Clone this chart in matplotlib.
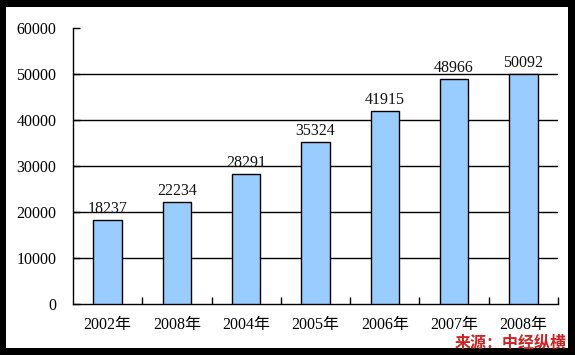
import matplotlib
matplotlib.use("Agg")
import matplotlib.pyplot as plt
from matplotlib.patches import Rectangle

categories = ["2002年", "2008年", "2004年", "2005年", "2006年", "2007年", "2008年"]
values = [18237, 22234, 28291, 35324, 41915, 48966, 50092]
yticks = [0, 10000, 20000, 30000, 40000, 50000, 60000]
source = "来源：中经纵横"

FONT = ["Liberation Serif", "Noto Sans CJK SC"]
plt.rcParams['font.family'] = FONT
FS = 11.5

W, H = 575, 355
fig = plt.figure(figsize=(W / 100, H / 100), dpi=100, facecolor="black")
fig.patches.append(Rectangle((6 / W, 7 / H), 562 / W, 341 / H, transform=fig.transFigure,
                             facecolor="white", edgecolor="none", zorder=-10))

ax = fig.add_axes([73 / W, (H - 304) / H, (558 - 73) / W, (304 - 28) / H])
ax.set_facecolor("none")
x = list(range(len(categories)))
ax.bar(x, values, width=0.41, color="#99ccff", edgecolor="black", linewidth=1.0, zorder=3)
for xi, v in zip(x, values):
    ax.annotate(f"{v}", (xi, v), xytext=(0, 2), textcoords="offset points",
                ha="center", va="bottom", fontsize=FS, color="#111111", zorder=4)

ax.set_xlim(-0.5, len(categories) - 0.5)
ax.set_ylim(0, 60000)
ax.set_yticks(yticks)
ax.set_yticklabels([str(t) for t in yticks], fontsize=FS)
for t in yticks[1:-1]:
    ax.axhline(t, color="black", linewidth=1.0, zorder=1)

ax.set_xticks(x)
ax.set_xticklabels(categories, fontsize=FS)
ax.tick_params(axis="x", length=0, pad=9)
ax.set_xticks([i + 0.5 for i in range(len(categories))], minor=True)
ax.tick_params(axis="x", which="minor", direction="in", length=5, width=1.0)
ax.tick_params(axis="y", direction="in", length=5, width=1.0, pad=12)

for s in ["top", "right"]:
    ax.spines[s].set_visible(False)
for s in ["left", "bottom"]:
    ax.spines[s].set_linewidth(1.0)

fig.text(567 / W, (H - 343) / H, source, ha="right", va="center", fontsize=11.5,
         color="#cc2222", fontweight="bold", family=["Noto Sans CJK SC"])

fig.savefig("out.png", dpi=100, facecolor="black")
